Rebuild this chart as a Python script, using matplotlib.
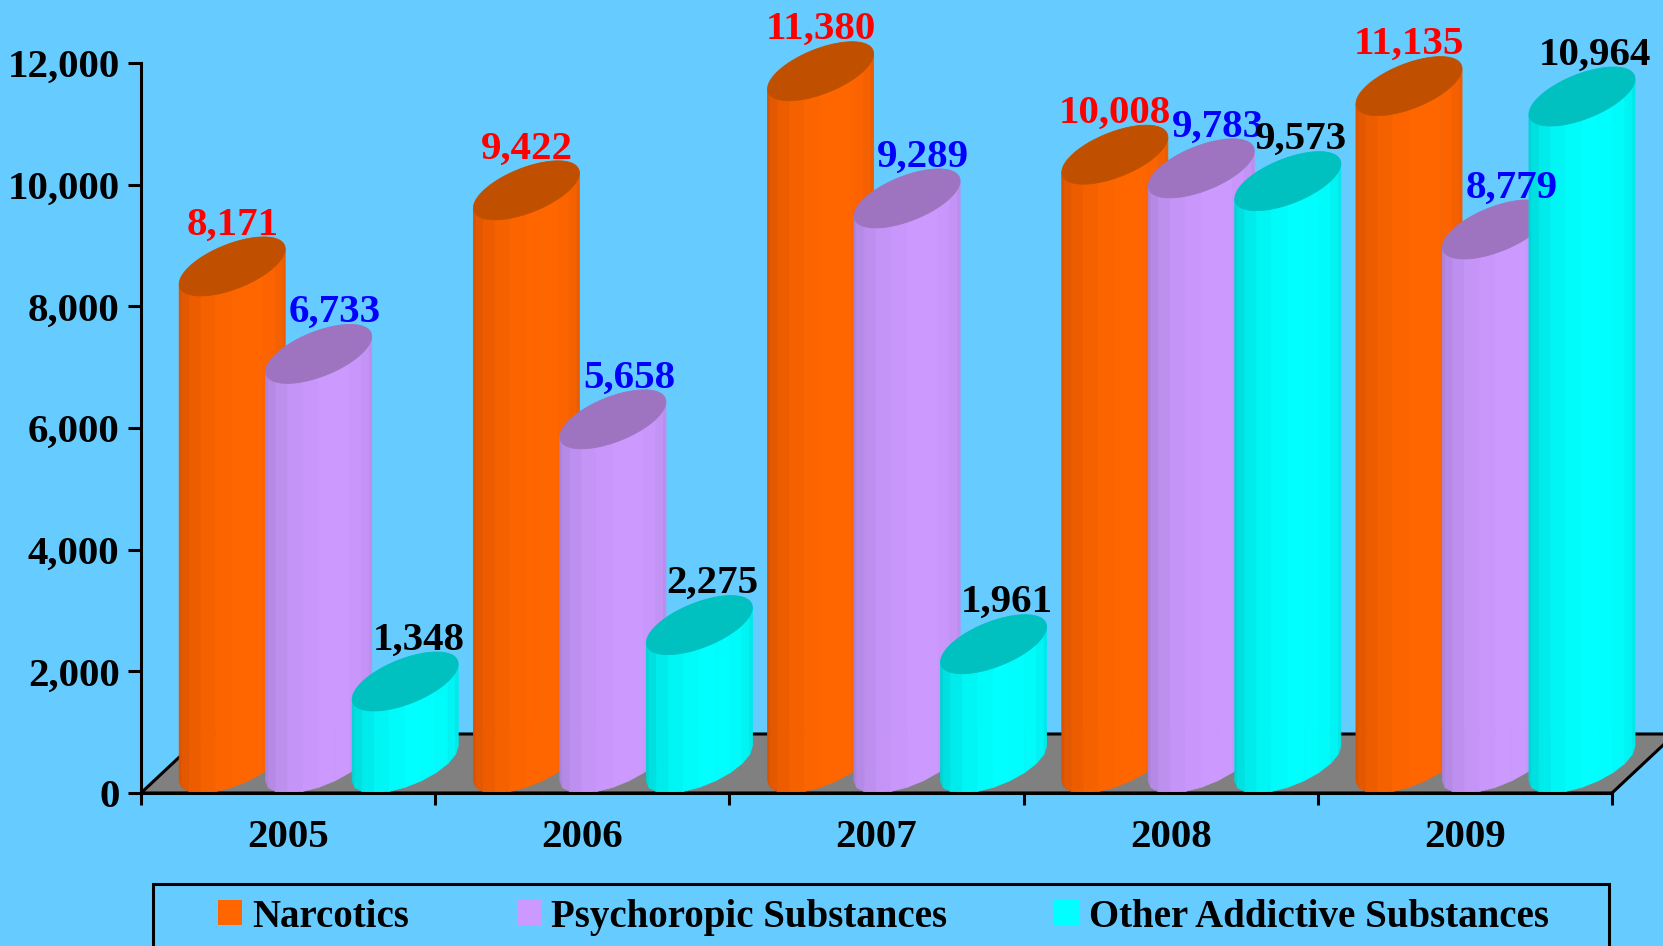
import numpy as np
import matplotlib.pyplot as plt
from matplotlib.patches import Polygon, Rectangle
from matplotlib.colors import to_rgb
from matplotlib.ticker import FuncFormatter, FixedLocator

plt.rcParams['font.family'] = ['Liberation Serif', 'DejaVu Serif']
plt.rcParams['font.weight'] = 'bold'

# data
years = ["2005", "2006", "2007", "2008", "2009"]
narcotics = [8171, 9422, 11380, 10008, 11135]
psychotropic = [6733, 5658, 9289, 9783, 8779]
other = [1348, 2275, 1961, 9573, 10964]
series_names = ["Narcotics", "Psychoropic Substances", "Other Addictive Substances"]

BG = "#66CCFF"
STYLES = [
    dict(light="#FF6600", dark="#D45000", top="#C05000", text="#FF0000", dx=0.0),
    dict(light="#CC99FF", dark="#A880D8", top="#9E74C0", text="#0000FF", dx=0.055),
    dict(light="#00FFFF", dark="#00CFCF", top="#00C0C0", text="#000000", dx=0.045),
]
FS_NUM = 29.5
FS_LEG = 28

# fake 3d geometry (x in category units, y in data units)
A = 0.145       # cylinder half width
OX = 0.107      # half depth, x shift
OY = 485        # half depth, y shift
STEP = 0.294    # distance between bars in a group
NSEG = 10
T1 = np.arctan2(OX, A)
T_LIGHT = 5.65


def mix(c1, c2, w):
    a, b = np.array(to_rgb(c1)), np.array(to_rgb(c2))
    return tuple(a + (b - a) * w)


def cylinder(ax, cx, v, st, z):
    ex = lambda t: cx + OX + A * np.cos(t) + OX * np.sin(t)
    ey = lambda t: OY * (1 + np.sin(t))
    ts = np.linspace(T1 + np.pi, T1 + 2 * np.pi, NSEG + 1)
    for k in range(NSEG):
        ta, tb = ts[k], ts[k + 1]
        w = np.clip((np.cos(0.5 * (ta + tb) - T_LIGHT) + 0.3) / 1.3, 0, 1)
        col = mix(st["dark"], st["light"], w)
        pts = [(ex(ta), ey(ta)), (ex(tb), ey(tb)), (ex(tb), v + ey(tb)), (ex(ta), v + ey(ta))]
        ax.add_patch(Polygon(pts, closed=True, fc=col, ec=col, lw=0.6, zorder=z, clip_on=False))
    tt = np.linspace(0, 2 * np.pi, 80)
    ax.add_patch(Polygon(np.c_[ex(tt), v + ey(tt)], closed=True, fc=st["top"], ec=st["top"],
                         lw=0.6, zorder=z + 0.04, clip_on=False))


fig = plt.figure(figsize=(16.63, 9.46), dpi=100, facecolor=BG)
ax = fig.add_axes([141 / 1663, 153 / 946, 1471 / 1663, 730 / 946])
ax.patch.set_visible(False)
ax.set_xlim(0, 5)
ax.set_ylim(0, 12000)

# floor
floor = Polygon([(0, 0), (5, 0), (5 + 2 * OX, 2 * OY), (2 * OX, 2 * OY)], closed=True,
                fc="#808080", ec="black", lw=2.2, zorder=1, clip_on=False)
ax.add_patch(floor)

all_series = [narcotics, psychotropic, other]
k = 0
for i in range(len(years)):
    for j, vals in enumerate(all_series):
        cx = i + 0.497 + (j - 1) * STEP
        v = vals[i]
        cylinder(ax, cx, v, STYLES[j], 1.1 + 0.09 * k)
        ax.text(cx + OX + STYLES[j]["dx"], v + 2 * OY + 40, f"{v:,}", ha="center", va="baseline",
                fontsize=FS_NUM, fontweight="bold", color=STYLES[j]["text"],
                zorder=5, clip_on=False)
        k += 1

for s in ["top", "right"]:
    ax.spines[s].set_visible(False)
for s in ["left", "bottom"]:
    ax.spines[s].set_linewidth(2.2)
    ax.spines[s].set_zorder(2.5)

ax.yaxis.set_major_locator(FixedLocator(np.arange(0, 12001, 2000)))
ax.yaxis.set_major_formatter(FuncFormatter(lambda y, p: f"{int(y):,}"))
ax.tick_params(axis="y", length=9.4, width=2.2, pad=6, labelsize=FS_NUM)

ax.xaxis.set_major_locator(FixedLocator(np.arange(0, 6)))
ax.xaxis.set_minor_locator(FixedLocator(np.arange(len(years)) + 0.5))
ax.set_xticklabels([], minor=False)
ax.set_xticklabels(years, minor=True)
ax.tick_params(axis="x", which="major", length=8.6, width=2.2)
ax.tick_params(axis="x", which="minor", length=0, pad=19, labelsize=FS_NUM)

# legend: frame drawn separately, it runs off the bottom of the picture
fig.patches.append(Rectangle((153 / 1663, -0.05), 1456 / 1663, 62 / 946 + 0.05,
                             transform=fig.transFigure, fill=False, ec="black", lw=2.2))
handles = [Rectangle((0, 0), 1, 1, fc=STYLES[j]["light"], ec="none") for j in range(3)]
leg = fig.legend(handles, series_names, loc="center left",
                 bbox_to_anchor=(218 / 1663, 1 - 917 / 946, 1331 / 1663, 0),
                 mode="expand", ncol=3, frameon=False, prop=dict(size=FS_LEG, weight="bold"),
                 handlelength=0.62, handleheight=0.62, handletextpad=0.27,
                 borderpad=0, borderaxespad=0)

fig.savefig("out.png", dpi=100, facecolor=BG)
